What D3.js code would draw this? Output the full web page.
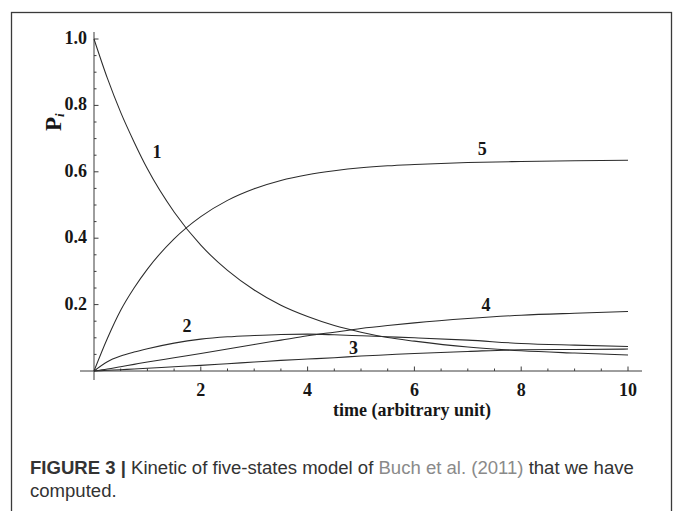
<!DOCTYPE html>
<html>
<head>
<meta charset="utf-8">
<script src="https://cdn.jsdelivr.net/npm/d3@7"></script>
<style>
  html, body { margin: 0; padding: 0; background: #fff; }
  svg { display: block; }
</style>
</head>
<body>
<svg id="chart" width="674" height="511"></svg>
<script>
// ---- data ----
const times = [0, 0.25, 0.5, 0.75, 1, 1.5, 2, 2.5, 3, 3.5, 4, 4.5, 5, 5.5, 6, 7, 8, 9, 10];
const state1 = [1.000, 0.882, 0.779, 0.690, 0.609, 0.479, 0.379, 0.303, 0.244, 0.198, 0.164, 0.137, 0.117, 0.101, 0.090, 0.072, 0.061, 0.054, 0.048];
const state2 = [0, 0.028, 0.045, 0.057, 0.067, 0.084, 0.096, 0.103, 0.107, 0.110, 0.111, 0.109, 0.106, 0.103, 0.100, 0.093, 0.083, 0.078, 0.074];
const state3 = [0, 0.002, 0.004, 0.006, 0.008, 0.013, 0.017, 0.022, 0.027, 0.032, 0.036, 0.040, 0.045, 0.049, 0.053, 0.059, 0.064, 0.065, 0.066];
const state4 = [0, 0.006, 0.013, 0.020, 0.027, 0.040, 0.053, 0.066, 0.080, 0.093, 0.106, 0.117, 0.128, 0.137, 0.145, 0.158, 0.168, 0.174, 0.179];
const state5 = [0, 0.098, 0.183, 0.250, 0.307, 0.398, 0.465, 0.514, 0.549, 0.574, 0.591, 0.603, 0.612, 0.618, 0.622, 0.628, 0.631, 0.633, 0.635];
const seriesNames = ["1", "2", "3", "4", "5"];
const labelPos = [[1.18, 0.66], [1.74, 0.135], [4.86, 0.069], [7.34, 0.20], [7.27, 0.67]]; // (t, P) of curve labels
const xTicks = [2, 4, 6, 8, 10];
const yTicks = [0.2, 0.4, 0.6, 0.8, 1.0];
const xTitle = "time (arbitrary unit)";
const captionBold = "FIGURE 3 |";
const captionPre = " Kinetic of five-states model of ";
const captionRef = "Buch et al. (2011)";
const captionPost = " that we have";
const captionLine2 = "computed.";

const svg = d3.select("#chart");

// frame
svg.append("rect").attr("x", 11.5).attr("y", 12.5).attr("width", 660).attr("height", 520)
  .attr("fill", "none").attr("stroke", "#3a3a3a").attr("stroke-width", 1.3);

const x = d3.scaleLinear().domain([0, 10]).range([94, 628]);
const y = d3.scaleLinear().domain([0, 1]).range([371, 39]);

const serif = "'Liberation Serif', 'Times New Roman', serif";
const axisColor = "#3c3c3c";
const fsTick = 18;

// axes lines
svg.append("line").attr("x1", 80).attr("x2", 642).attr("y1", y(0)).attr("y2", y(0))
  .attr("stroke", axisColor).attr("stroke-width", 1);
svg.append("line").attr("x1", x(0)).attr("x2", x(0)).attr("y1", 32).attr("y2", 380)
  .attr("stroke", axisColor).attr("stroke-width", 1);

// x ticks (inside, pointing up)
const xMinor = d3.range(0.5, 10.01, 0.5);
svg.append("g").selectAll("line").data(xMinor).join("line")
  .attr("x1", d => x(d)).attr("x2", d => x(d))
  .attr("y1", y(0)).attr("y2", d => y(0) - (Math.abs(d % 2) < 1e-6 ? 4.5 : 2.5))
  .attr("stroke", axisColor).attr("stroke-width", 1);
// y ticks (inside, pointing right)
const yMinor = d3.range(1, 21).map(k => k * 0.05);
svg.append("g").selectAll("line").data(yMinor).join("line")
  .attr("x1", x(0)).attr("x2", (d, i) => x(0) + ((i + 1) % 4 === 0 ? 4.5 : 2.5))
  .attr("y1", d => y(d)).attr("y2", d => y(d))
  .attr("stroke", axisColor).attr("stroke-width", 1);

// tick labels
svg.append("g").selectAll("text").data(xTicks).join("text")
  .attr("x", d => x(d)).attr("y", 396)
  .attr("text-anchor", "middle").attr("font-family", serif).attr("font-weight", "bold")
  .attr("font-size", fsTick).attr("fill", "#161616").text(d => d);
svg.append("g").selectAll("text").data(yTicks).join("text")
  .attr("x", 87).attr("y", d => y(d) + 5)
  .attr("text-anchor", "end").attr("font-family", serif).attr("font-weight", "bold")
  .attr("font-size", fsTick).attr("fill", "#161616").text(d => d.toFixed(1));

// axis titles
svg.append("text").attr("x", 412).attr("y", 416).attr("text-anchor", "middle")
  .attr("font-family", serif).attr("font-weight", "bold").attr("font-size", 18)
  .attr("fill", "#161616").text(xTitle);
const yt = svg.append("text").attr("transform", "translate(61,131) rotate(-90)")
  .attr("font-family", serif).attr("font-weight", "bold").attr("font-size", 23).attr("fill", "#161616");
yt.append("tspan").text("P");
yt.append("tspan").attr("font-size", 13).attr("font-style", "italic").attr("dy", 3).text("i");

// curves
const allSeries = [state1, state2, state3, state4, state5];
const line = d3.line().x((d, i) => x(times[i])).y(d => y(d)).curve(d3.curveMonotoneX);
svg.append("g").selectAll("path").data(allSeries).join("path")
  .attr("d", line).attr("fill", "none").attr("stroke", "#2b2b2b").attr("stroke-width", 1.05);

// curve labels
svg.append("g").selectAll("text").data(seriesNames).join("text")
  .attr("x", (d, i) => x(labelPos[i][0])).attr("y", (d, i) => y(labelPos[i][1]) + 6)
  .attr("text-anchor", "middle").attr("font-family", serif).attr("font-weight", "bold")
  .attr("font-size", 18).attr("fill", "#161616").text(d => d);

// caption
const sans = "'Liberation Sans', Arial, sans-serif";
const cap = svg.append("text").attr("x", 30).attr("y", 474)
  .attr("font-family", sans).attr("font-size", 17).attr("fill", "#333");
cap.append("tspan").attr("font-weight", "bold").text(captionBold);
cap.append("tspan").text(captionPre);
cap.append("tspan").attr("fill", "#8a8a8a").text(captionRef);
cap.append("tspan").text(captionPost);
const w = cap.node().getComputedTextLength();
const fs = 17 * 604 / w;
cap.attr("font-size", fs);
svg.append("text").attr("x", 30).attr("y", 497)
  .attr("font-family", sans).attr("font-size", fs).attr("fill", "#333").text(captionLine2);
</script>
</body>
</html>
